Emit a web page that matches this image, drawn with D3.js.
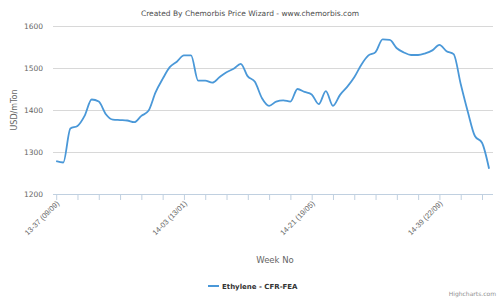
<!DOCTYPE html>
<html>
<head>
<meta charset="utf-8">
<script src="https://cdn.jsdelivr.net/npm/d3@7/dist/d3.min.js"></script>
<style>
  body { margin: 0; background: #fff; }
  svg { display: block; font-family: "DejaVu Sans", Verdana, sans-serif; }
</style>
</head>
<body>
<div id="chart"></div>
<script>
// weekly categories: YY-WW (DD/MM)
const weeks = [
  "13-37 (09/09)", "13-38 (16/09)", "13-39 (23/09)", "13-40 (30/09)", "13-41 (07/10)",
  "13-42 (14/10)", "13-43 (21/10)", "13-44 (28/10)", "13-45 (04/11)", "13-46 (11/11)",
  "13-47 (18/11)", "13-48 (25/11)", "13-49 (02/12)", "13-50 (09/12)", "13-51 (16/12)",
  "13-52 (23/12)", "14-01 (30/12)", "14-02 (06/01)", "14-03 (13/01)", "14-04 (20/01)",
  "14-05 (27/01)", "14-06 (03/02)", "14-07 (10/02)", "14-08 (17/02)", "14-09 (24/02)",
  "14-10 (03/03)", "14-11 (10/03)", "14-12 (17/03)", "14-13 (24/03)", "14-14 (31/03)",
  "14-15 (07/04)", "14-16 (14/04)", "14-17 (21/04)", "14-18 (28/04)", "14-19 (05/05)",
  "14-20 (12/05)", "14-21 (19/05)", "14-22 (26/05)", "14-23 (02/06)", "14-24 (09/06)",
  "14-25 (16/06)", "14-26 (23/06)", "14-27 (30/06)", "14-28 (07/07)", "14-29 (14/07)",
  "14-30 (21/07)", "14-31 (28/07)", "14-32 (04/08)", "14-33 (11/08)", "14-34 (18/08)",
  "14-35 (25/08)", "14-36 (01/09)", "14-37 (08/09)", "14-38 (15/09)", "14-39 (22/09)",
  "14-40 (29/09)", "14-41 (06/10)", "14-42 (13/10)", "14-43 (20/10)", "14-44 (27/10)",
  "14-45 (03/11)", "14-46 (10/11)"
];

// Ethylene CFR-FEA, USD/mTon
const prices = [
  1278, 1275, 1356, 1362, 1386, 1425, 1420, 1390, 1377, 1376,
  1375, 1371, 1386, 1398, 1442, 1474, 1502, 1515, 1530, 1530,
  1470, 1470, 1465, 1478, 1490, 1498, 1510, 1480, 1467, 1428,
  1410, 1420, 1423, 1420, 1450, 1443, 1437, 1414, 1445, 1410,
  1436, 1455, 1478, 1508, 1530, 1538, 1568, 1567, 1547, 1537,
  1531, 1531, 1535, 1542, 1555, 1540, 1533, 1462, 1396, 1338,
  1322, 1260
];

const yTicks = [1200, 1300, 1400, 1500, 1600];
const tickEvery = 3;     // tick mark every 3 weeks
const labelEvery = 18;   // label every 18 weeks

const width = 500, height = 300;
const margin = { top: 26, right: 7, bottom: 106, left: 53 };
const innerW = width - margin.left - margin.right;
const innerH = height - margin.top - margin.bottom;

const svg = d3.select("#chart").append("svg")
  .attr("width", width)
  .attr("height", height);

const x = d3.scaleLinear()
  .domain([-0.45, weeks.length - 0.45])
  .range([margin.left, margin.left + innerW]);

const y = d3.scaleLinear()
  .domain([1200, 1600])
  .range([margin.top + innerH, margin.top]);

// title
svg.append("text")
  .attr("x", width / 2)
  .attr("y", 16)
  .attr("text-anchor", "middle")
  .style("font-size", "7.5px")
  .style("fill", "#4d4d4d")
  .text("Created By Chemorbis Price Wizard - www.chemorbis.com");

// grid lines + y labels
const yAxis = svg.append("g")
  .attr("transform", `translate(${margin.left},0)`)
  .call(d3.axisLeft(y).tickValues(yTicks).tickSize(-innerW).tickPadding(10).tickFormat(d3.format("d")));
yAxis.select(".domain").remove();
yAxis.selectAll(".tick line")
  .attr("stroke", "#d8d8d8");
yAxis.selectAll(".tick text")
  .style("font-size", "7.5px")
  .style("fill", "#666")
  .style("font-family", "DejaVu Sans, sans-serif");

// y axis title
svg.append("text")
  .attr("transform", `translate(17,${margin.top + innerH / 2}) rotate(-90)`)
  .attr("text-anchor", "middle")
  .style("font-size", "8px")
  .style("fill", "#666")
  .text("USD/mTon");

// x axis
const tickIdx = d3.range(0, weeks.length, tickEvery);
const xAxis = svg.append("g")
  .attr("transform", `translate(0,${margin.top + innerH})`)
  .call(d3.axisBottom(x)
    .tickValues(tickIdx)
    .tickSize(6)
    .tickFormat(i => i % labelEvery === 0 ? weeks[i] : ""));
xAxis.select(".domain")
  .attr("stroke", "#c0d0e0")
  .attr("d", `M${margin.left},0.5H${margin.left + innerW}`);
xAxis.selectAll(".tick line").attr("stroke", "#c0d0e0");
xAxis.selectAll(".tick text")
  .style("font-size", "7.5px")
  .style("fill", "#666")
  .style("font-family", "Liberation Sans, Arial, sans-serif")
  .attr("text-anchor", "end")
  .attr("dy", null)
  .attr("y", 0)
  .attr("transform", "translate(3,10) rotate(-45)");

// x axis title
svg.append("text")
  .attr("x", margin.left + innerW / 2 + 2)
  .attr("y", 263)
  .attr("text-anchor", "middle")
  .style("font-size", "8.5px")
  .style("fill", "#666")
  .text("Week No");

// line
const line = d3.line()
  .x((d, i) => x(i))
  .y(d => y(d))
  .curve(d3.curveMonotoneX);

svg.append("path")
  .datum(prices)
  .attr("fill", "none")
  .attr("stroke", "#4a98d8")
  .attr("stroke-width", 1.8)
  .attr("d", line);

// legend
const legend = svg.append("g").attr("transform", "translate(208,286)");
legend.append("line")
  .attr("x1", 0).attr("x2", 11)
  .attr("y1", 0).attr("y2", 0)
  .attr("stroke", "#4a98d8")
  .attr("stroke-width", 2);
legend.append("text")
  .attr("x", 14)
  .attr("y", 3)
  .style("font-size", "7px")
  .style("font-weight", "bold")
  .style("fill", "#333")
  .text("Ethylene - CFR-FEA");

// credits
svg.append("text")
  .attr("x", 496)
  .attr("y", 296)
  .attr("text-anchor", "end")
  .style("font-size", "6px")
  .style("fill", "#909090")
  .text("Highcharts.com");
</script>
</body>
</html>
